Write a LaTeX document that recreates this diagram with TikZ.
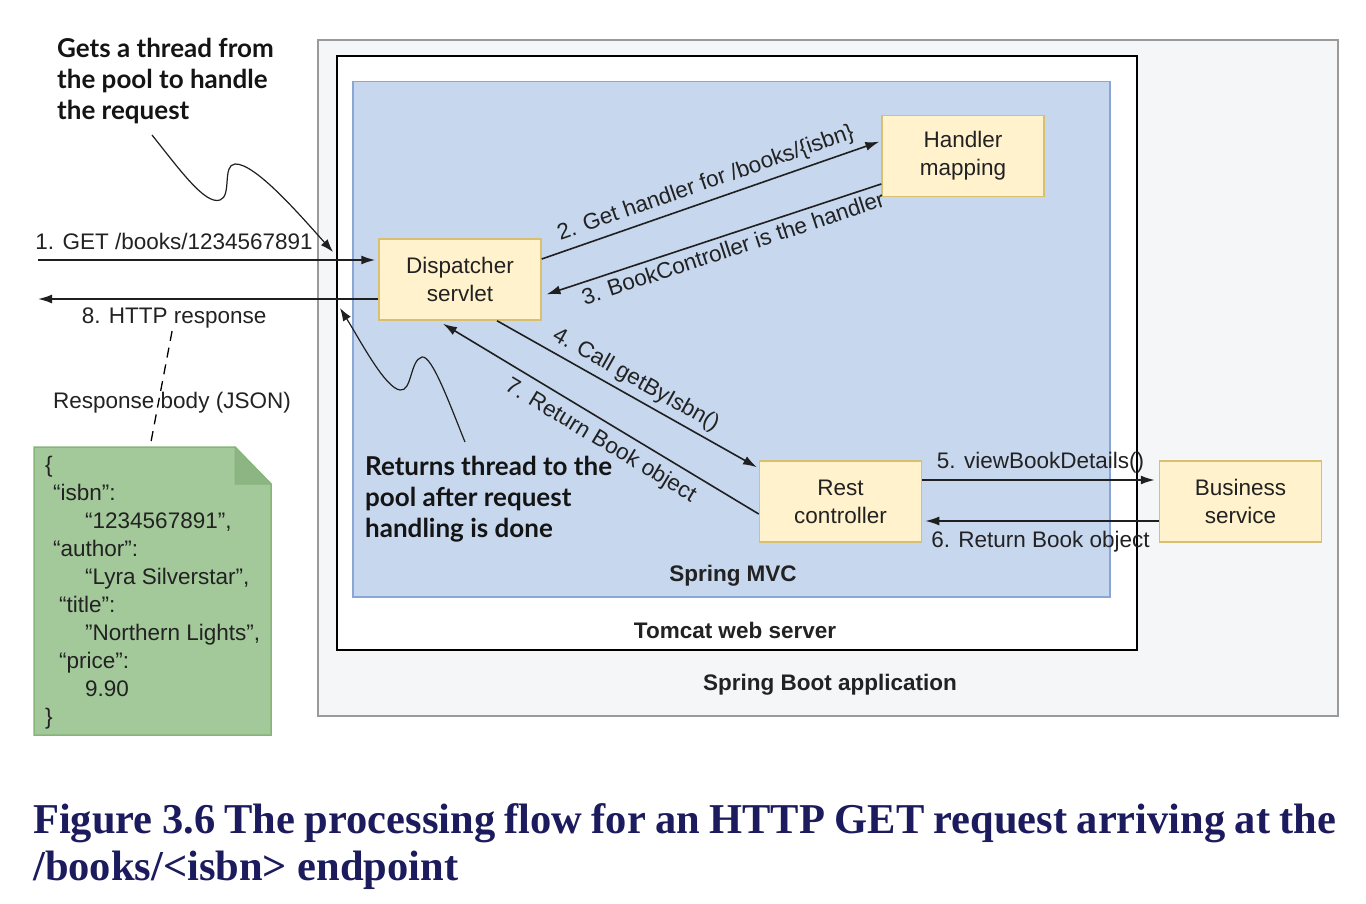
\documentclass[tikz,border=0pt]{standalone}
\usepackage{fontspec}
\setmainfont{Liberation Sans}
\newfontfamily\calloutfont{Lato}
\newfontfamily\capfont{Liberation Serif}
\usetikzlibrary{arrows.meta}
\definecolor{bootfill}{HTML}{F5F6F8}
\definecolor{bootdraw}{HTML}{9A9A9A}
\definecolor{mvcfill}{HTML}{C6D7EE}
\definecolor{mvcdraw}{HTML}{8AA6D6}
\definecolor{yfill}{HTML}{FFF2CC}
\definecolor{ydraw}{HTML}{D9C070}
\definecolor{gfill}{HTML}{A3C89A}
\definecolor{gdraw}{HTML}{86B57A}
\definecolor{gfold}{HTML}{8DB583}
\definecolor{txt}{HTML}{222222}
\definecolor{capcol}{HTML}{1B1B5E}
\tikzset{
  lbl/.style={font=\fontsize{22.5}{27}\selectfont, text=txt, inner sep=2pt},
  boldlbl/.style={font=\bfseries\fontsize{22.5}{27}\selectfont, text=txt, inner sep=0pt},
  ybox/.style={draw=ydraw, fill=yfill, line width=1.5pt, minimum width=162pt, minimum height=81pt, align=center, font=\fontsize{22.5}{28}\selectfont, text=txt, inner sep=0pt},
  arr/.style={draw=black!88, line width=1.6pt, -{Latex[length=14pt,width=9pt]}},
  curvearr/.style={draw=black!88, line width=1.2pt, -{Latex[length=13pt,width=9pt]}},
  callout/.style={font=\calloutfont\bfseries\fontsize{26}{31}\selectfont, align=left, anchor=north west, inner sep=0pt, text=black!92},
  container/.style={anchor=north west, inner sep=0pt},
  captxt/.style={anchor=base west, inner sep=0pt, font=\capfont\bfseries\fontsize{42.5}{48}\selectfont, text=capcol}
}
\begin{document}
\begin{tikzpicture}[x=1pt,y=-1pt]
\useasboundingbox (0,0) rectangle (1366,904);
\fill[white] (0,0) rectangle (1366,904);
% containers
\node[container, draw=bootdraw, fill=bootfill, line width=2pt, minimum width=1020pt, minimum height=676pt] (boot) at (317,39) {};
\node[container, draw=black, fill=white, line width=2pt, minimum width=800pt, minimum height=594pt] (tomcat) at (336,55) {};
\node[container, draw=mvcdraw, fill=mvcfill, line width=1.5pt, minimum width=757pt, minimum height=515pt] (mvc) at (352,81) {};
\node[boldlbl] (mvclbl) at (733,576) {Spring MVC};
\node[boldlbl] (tomcatlbl) at (735,630) {Tomcat web server};
\node[boldlbl] (bootlbl) at (830,685) {Spring Boot application};
% boxes
\node[ybox] (ds) at (460,279.5) {Dispatcher\\servlet};
\node[ybox] (hm) at (963,156) {Handler\\mapping};
\node[ybox] (rc) at (840.5,501.5) {Rest\\controller};
\node[ybox] (bs) at (1240.5,501.5) {Business\\service};
% request / response
\coordinate (in1) at (38,260);
\coordinate (out8) at (38,299);
\draw[arr, shorten >=3pt] (in1) -- node[lbl, pos=0.4, above, yshift=7pt] (l1) {1. GET /books/1234567891} (in1 -| ds.west);
\draw[arr] ([yshift=-19.5pt]ds.west) -- node[lbl, pos=0.6, below, yshift=-6pt] (r8) {8. HTTP response} (out8);
% flow arrows
\draw[arr, shorten >=2pt] ([yshift=20.5pt]ds.east) -- node[lbl, sloped, above=4pt] (l2) {2. Get handler for /books/\{isbn\}} ([yshift=15pt]hm.west);
\draw[arr, shorten >=5pt] ([yshift=-28pt]hm.west) -- node[lbl, sloped, below=3pt, pos=0.45] (l3) {3. BookController is the handler} ([yshift=-16.5pt]ds.east);
\draw[arr, shorten >=2pt] ([xshift=37pt]ds.south) -- node[lbl, sloped, above=3pt] (l4) {4. Call getByIsbn()} ([yshift=-8pt]rc.north west);
\draw[arr] ([yshift=-12.5pt]rc.west) -- node[lbl, sloped, below=6pt, pos=0.47] (l7) {7. Return Book object} ([xshift=-17pt,yshift=-3pt]ds.south);
\draw[arr, shorten >=4pt] ([yshift=21.5pt]rc.east) -- node[lbl, above, yshift=4pt] (l5) {5. viewBookDetails()} ([yshift=21.5pt]bs.west);
\draw[arr, shorten >=3pt] ([yshift=-19.5pt]bs.west) -- node[lbl, below, yshift=-7pt] (l6) {6. Return Book object} ([yshift=-19.5pt]rc.east);
% JSON note
\draw[draw=gdraw, fill=gfill, line width=1.5pt] (34,447) -- (235,447) -- (271,484) -- (271,735) -- (34,735) -- cycle;
\draw[draw=gdraw, fill=gfold, line width=1pt] (235,447) -- (235,484) -- (271,484) -- cycle;
\coordinate (notetop) at (150,447);
\node[lbl] (rb) at (172,403) {Response body (JSON)};
\draw[line width=1.3pt, dash pattern=on 10pt off 7pt] ([xshift=-2pt]r8.south) -- (notetop);
\node[anchor=north west, inner sep=0pt, align=left, font=\fontsize{22.5}{28}\selectfont, text=txt] (json) at (45,456) {%
{\{}\\
\hspace*{8pt}“isbn”:\\
\hspace*{40pt}“1234567891”,\\
\hspace*{8pt}“author”:\\
\hspace*{40pt}“Lyra Silverstar”,\\
\hspace*{14pt}“title”:\\
\hspace*{40pt}{\char34}Northern Lights”,\\
\hspace*{14pt}“price”:\\
\hspace*{40pt}9.90\\
\}};
% callouts
\node[callout] (c1) at (57,38) {Gets a thread from\\the pool to handle\\the request};
\node[callout] (c2) at (365,456) {Returns thread to the\\pool after request\\handling is done};
\coordinate (c1s) at (152,135);
\coordinate (c1e) at (333,252);
\coordinate (c2s) at (465,442);
\coordinate (c2e) at (340,308);
\draw[curvearr] (c1s) .. controls (180,170) and (205,205) .. (220,200) .. controls (232,196) and (222,165) .. (235,164) .. controls (255,163) and (300,215) .. (c1e);
\draw[curvearr] (c2s) .. controls (450,405) and (432,355) .. (422,357) .. controls (410,360) and (412,392) .. (400,390) .. controls (385,388) and (360,340) .. (c2e);
% caption
\node[captxt] (cap1) at (33,833) {\makebox[1303pt][s]{Figure 3.6 The processing flow for an HTTP GET request arriving at the}};
\node[captxt] (cap2) at (33,880) {/books/<isbn> endpoint};
\end{tikzpicture}
\end{document}
